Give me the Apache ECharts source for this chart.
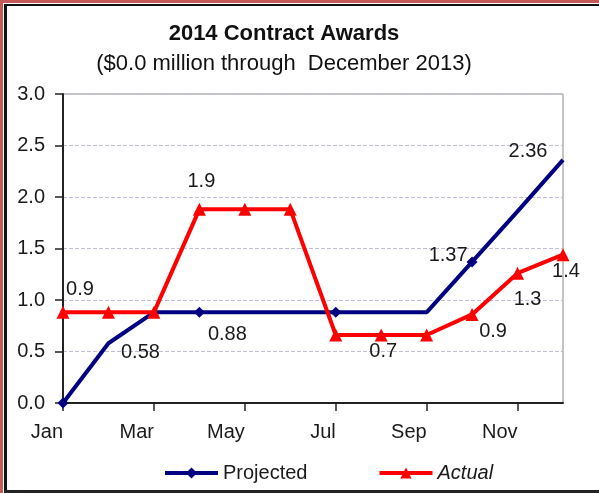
<!DOCTYPE html>
<html>
<head>
<meta charset="utf-8">
<script src="https://cdn.jsdelivr.net/npm/echarts@6/dist/echarts.min.js"></script>
<style>
html,body{margin:0;padding:0;background:#fff;}
#c{width:599px;height:493px;}
</style>
</head>
<body>
<div id="c"></div>
<script>
const months = ['Jan','Feb','Mar','Apr','May','Jun','Jul','Aug','Sep','Oct','Nov','Dec'];
const projected = [0, 0.58, 0.88, 0.88, 0.88, 0.88, 0.88, 0.88, 0.88, 1.37, 1.86, 2.36];
const actual = [0.88, 0.88, 0.88, 1.88, 1.88, 1.88, 0.66, 0.66, 0.66, 0.86, 1.26, 1.44];
const yTicks = [0, 0.5, 1, 1.5, 2, 2.5, 3];

// which points carry a visible marker / label (style only)
const projMarkers = [0, 3, 6, 9];
const projLabels = {1: [32, 9], 3: [28, 22], 9: [-24, -6], 11: [-35, -8]};
const actLabels = {0: [17, -23], 3: [2, -28], 7: [2, 16], 9: [21, 17], 10: [10, 26], 11: [3, 17]};

const labelFont = {fontFamily: 'Liberation Sans', fontSize: 20, color: '#1a1a1a'};

const projData = projected.map((v, i) => {
  const d = {value: v, symbolSize: projMarkers.includes(i) ? 11 : 0};
  if (projLabels[i]) {
    d.label = Object.assign({show: true, position: 'inside', offset: projLabels[i],
      formatter: p => p.value.toFixed(2)}, labelFont);
  }
  return d;
});
const actData = actual.map((v, i) => {
  const d = {value: v};
  if (actLabels[i]) {
    d.label = Object.assign({show: true, position: 'inside', offset: actLabels[i],
      formatter: p => p.value.toFixed(1)}, labelFont);
  }
  return d;
});

const chart = echarts.init(document.getElementById('c'));
chart.setOption({
  animation: false,
  backgroundColor: '#fff',
  graphic: [
    {type: 'rect', shape: {x: 0, y: 0, width: 3, height: 493}, style: {fill: '#c65a5a'}},
    {type: 'rect', shape: {x: 0, y: 0, width: 599, height: 3}, style: {fill: '#c65a5a'}},
    {type: 'rect', shape: {x: 4, y: 4, width: 3, height: 489}, style: {fill: '#111'}},
    {type: 'rect', shape: {x: 4, y: 4, width: 595, height: 2}, style: {fill: '#111'}},
    {type: 'rect', shape: {x: 4, y: 490, width: 595, height: 3}, style: {fill: '#222'}},
    {type: 'text', x: 284, y: 34, style: {text: '2014 Contract Awards', fontFamily: 'Liberation Sans',
      fontSize: 22, fontWeight: 'bold', fill: '#111', align: 'center', verticalAlign: 'middle'}},
    {type: 'text', x: 284, y: 64, style: {text: '($0.0 million through  December 2013)', fontFamily: 'Liberation Sans',
      fontSize: 22, fill: '#111', align: 'center', verticalAlign: 'middle'}}
  ],
  grid: {left: 63, right: 36, top: 94, bottom: 90, show: true, borderColor: '#8a8a8a', borderWidth: 1, containLabel: false},
  legend: {
    left: 158, top: 458, itemWidth: 53, itemHeight: 14, itemGap: 70,
    textStyle: {fontFamily: 'Liberation Sans', fontSize: 20, color: '#1a1a1a'},
    data: [
      {name: 'Projected', lineStyle: {width: 4}},
      {name: 'Actual', lineStyle: {width: 4}, textStyle: {fontStyle: 'italic'}}
    ]
  },
  xAxis: {
    type: 'category', data: months, boundaryGap: false,
    axisLine: {lineStyle: {color: '#222', width: 2}},
    axisTick: {show: true, interval: 1, length: 8, lineStyle: {color: '#222', width: 1.5}},
    axisLabel: {interval: 1, align: 'right', margin: 19, fontFamily: 'Liberation Sans', fontSize: 20, color: '#1a1a1a'},
    splitLine: {show: false}
  },
  yAxis: {
    type: 'value', min: 0, max: 3, interval: 0.5,
    axisLine: {show: true, lineStyle: {color: '#222', width: 2}},
    axisTick: {show: true, length: 8, lineStyle: {color: '#222', width: 1.5}},
    axisLabel: {margin: 18, fontFamily: 'Liberation Sans', fontSize: 20, color: '#1a1a1a',
      formatter: v => v.toFixed(1)},
    splitLine: {show: true, lineStyle: {color: '#c4bcd6', width: 1, type: [4, 2]}}
  },
  series: [
    {name: 'Projected', type: 'line', data: projData, symbol: 'diamond', showAllSymbol: true,
      color: '#000080', lineStyle: {width: 4, color: '#000080'}, itemStyle: {color: '#000080'}, z: 2},
    {name: 'Actual', type: 'line', data: actData, symbol: 'triangle', symbolSize: 13, showAllSymbol: true,
      color: '#ff0000', lineStyle: {width: 4, color: '#ff0000'}, itemStyle: {color: '#ff0000'}, z: 3}
  ]
});
</script>
</body>
</html>
